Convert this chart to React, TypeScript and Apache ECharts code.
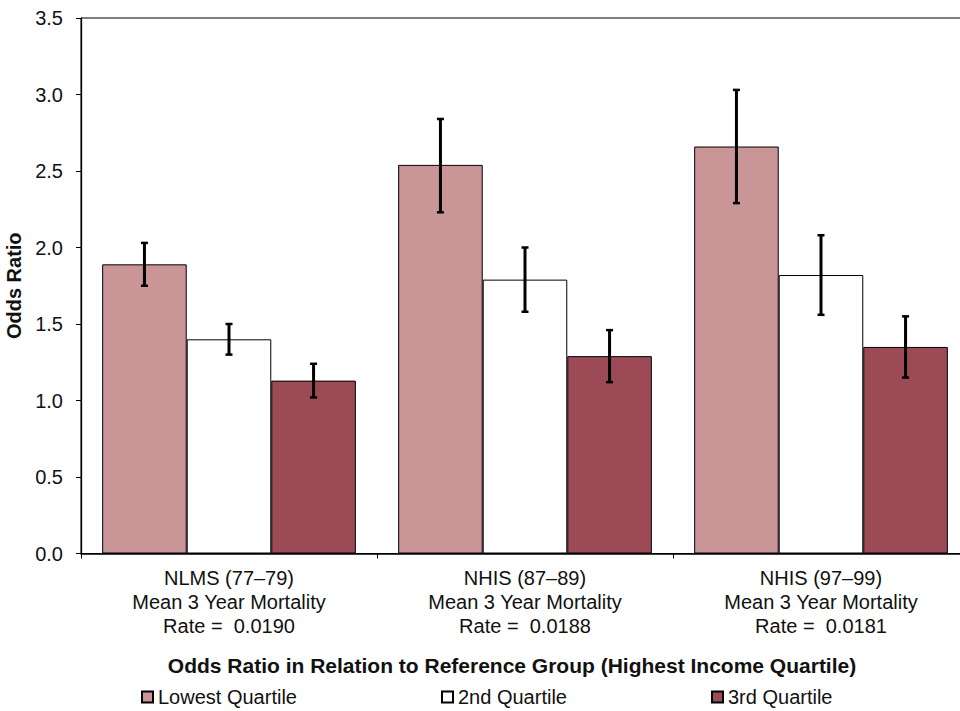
import React, { useEffect, useRef } from "react";
import * as echarts from "echarts";

const categories = [
  "NLMS (77–79)\nMean 3 Year Mortality\nRate =  0.0190",
  "NHIS (87–89)\nMean 3 Year Mortality\nRate =  0.0188",
  "NHIS (97–99)\nMean 3 Year Mortality\nRate =  0.0181",
];
const seriesNames = ["Lowest Quartile", "2nd Quartile", "3rd Quartile"];
const lowestValues = [1.89, 2.54, 2.66];
const secondValues = [1.4, 1.79, 1.82];
const thirdValues = [1.13, 1.29, 1.35];
const lowestCI = [[1.75, 2.03], [2.23, 2.84], [2.29, 3.03]];
const secondCI = [[1.3, 1.5], [1.58, 2.0], [1.56, 2.08]];
const thirdCI = [[1.02, 1.24], [1.12, 1.46], [1.15, 1.55]];
const yTicks = [0, 0.5, 1, 1.5, 2, 2.5, 3, 3.5];

const colors = ["#C99597", "#FFFFFF", "#9C4A55"];
const FONT = "'Liberation Sans', Arial, sans-serif";
const CAT_GAP = 0.143;
const FS = 20;

export default function App() {
  const ref = useRef<HTMLDivElement>(null);
  useEffect(() => {
    if (!ref.current) return;
    const chart = echarts.init(ref.current, undefined, { renderer: "svg" });
    const values = [lowestValues, secondValues, thirdValues];
    const cis = [lowestCI, secondCI, thirdCI];
    const errData: number[][] = [];
    cis.forEach((ci, s) => ci.forEach((c, i) => errData.push([i, c[0], c[1], s])));

    const barSeries = values.map((v, s) => ({
      type: "bar",
      name: seriesNames[s],
      data: v,
      barGap: "0%",
      barCategoryGap: CAT_GAP * 100 + "%",
      itemStyle: { color: colors[s], borderColor: "#000", borderWidth: 1 },
    }));

    const legendLefts = [141, 441, 711];

    chart.setOption({
      animation: false,
      backgroundColor: "#fff",
      grid: {
        left: 81,
        top: 18,
        width: 888,
        height: 535.5,
        containLabel: false,
        outerBoundsMode: "none",
        show: true,
        borderColor: "#000",
        borderWidth: 1,
        backgroundColor: "transparent",
      },
      legend: seriesNames.map((n, s) => ({
        data: [n],
        left: legendLefts[s],
        top: 687,
        padding: 0,
        itemWidth: 11,
        itemHeight: 11,
        itemGap: 5,
        icon: "rect",
        textStyle: { fontFamily: FONT, fontSize: FS, color: "#111", padding: [0, 0, 0, 0] },
        selectedMode: false,
      })),
      graphic: [
        {
          type: "text",
          x: 512,
          y: 665,
          style: {
            text: "Odds Ratio in Relation to Reference Group (Highest Income Quartile)",
            font: `bold 21px ${FONT}`,
            fill: "#111",
            textAlign: "center",
            textVerticalAlign: "middle",
          },
        },
      ],
      xAxis: {
        type: "category",
        data: categories,
        axisLine: { lineStyle: { color: "#000", width: 1.5 } },
        axisTick: { show: true, length: 5, lineStyle: { color: "#000" } },
        axisLabel: {
          fontFamily: FONT,
          fontSize: FS,
          color: "#111",
          lineHeight: 24,
          margin: 12,
          interval: 0,
        },
      },
      yAxis: {
        type: "value",
        min: 0,
        max: 3.5,
        interval: 0.5,
        name: "Odds Ratio",
        nameLocation: "middle",
        nameGap: 57,
        nameRotate: 90,
        nameTextStyle: { fontFamily: FONT, fontSize: 20, fontWeight: "bold", color: "#111" },
        axisLine: { show: true, lineStyle: { color: "#000", width: 1.3 } },
        axisTick: { show: true, length: 5, lineStyle: { color: "#000" } },
        splitLine: { show: false },
        axisLabel: {
          fontFamily: FONT,
          fontSize: FS,
          color: "#111",
          margin: 18,
          formatter: (v: number) => (yTicks.includes(v) ? v.toFixed(1) : ""),
        },
      },
      series: [
        ...barSeries,
        {
          type: "custom",
          name: "err",
          data: errData,
          z: 10,
          renderItem: (params: any, api: any) => {
            const cat = api.value(0);
            const lo = api.value(1);
            const hi = api.value(2);
            const s = api.value(3);
            const band = api.size([1, 0])[0];
            const bw = (band * (1 - CAT_GAP)) / 3;
            const cx = api.coord([cat, 0])[0] + (s - 1) * bw;
            const yLo = api.coord([cat, lo])[1];
            const yHi = api.coord([cat, hi])[1];
            const cap = 3.5;
            const st = { stroke: "#000", lineWidth: 3 };
            const cst = { stroke: "#000", lineWidth: 2.5 };
            return {
              type: "group",
              children: [
                { type: "line", shape: { x1: cx, y1: yLo, x2: cx, y2: yHi }, style: st },
                { type: "line", shape: { x1: cx - cap, y1: yLo, x2: cx + cap, y2: yLo }, style: cst },
                { type: "line", shape: { x1: cx - cap, y1: yHi, x2: cx + cap, y2: yHi }, style: cst },
              ],
            };
          },
        },
      ],
    });
    return () => chart.dispose();
  }, []);
  return <div ref={ref} style={{ width: 960, height: 711, position: "absolute", left: 0, top: 0 }} />;
}
